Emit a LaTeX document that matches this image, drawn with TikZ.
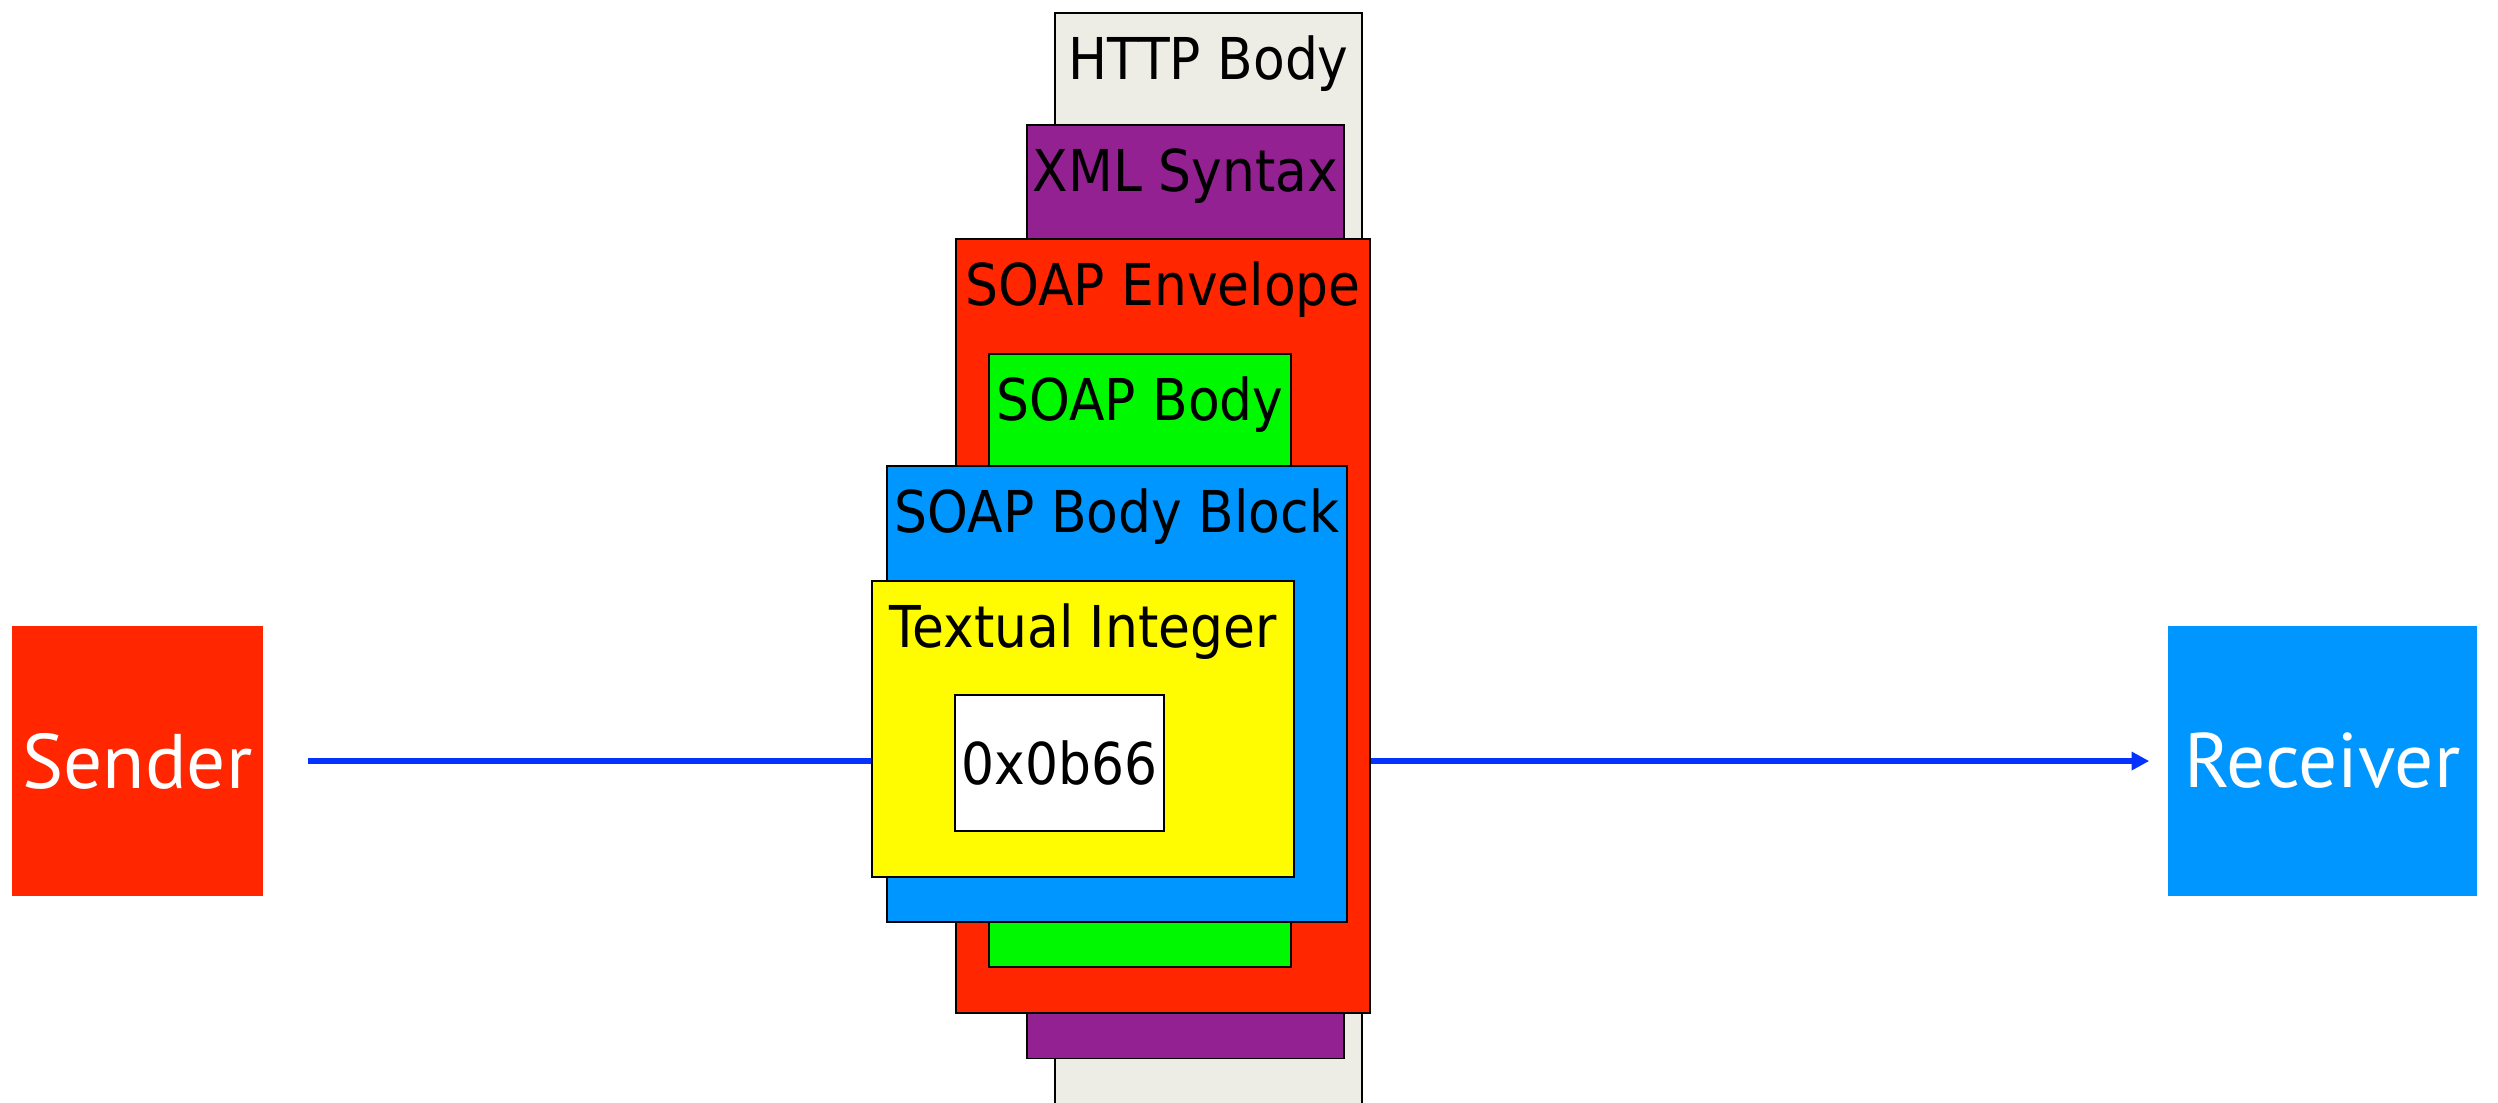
\documentclass[tikz,border=0pt]{standalone}
\usepackage{fontspec}
\usepackage{tikz}
\usetikzlibrary{arrows.meta}
\newfontfamily\layerfont{DejaVu Sans}[FakeStretch=0.9]
\newfontfamily\partyfont{PT Sans}
\definecolor{httpgray}{RGB}{237,237,229}
\definecolor{xmlpurple}{RGB}{148,33,146}
\definecolor{envred}{RGB}{255,38,0}
\definecolor{bodygreen}{RGB}{0,249,0}
\definecolor{blockblue}{RGB}{0,150,255}
\definecolor{intyellow}{RGB}{255,251,0}
\definecolor{linkblue}{RGB}{4,51,255}

\begin{document}
\begin{tikzpicture}[x=0.01cm, y=-0.01cm,
    layer/.style={draw=black, line width=0.5pt, inner sep=0pt, anchor=north west},
    layername/.style={anchor=base, yshift=-0.67cm, inner sep=0pt, font=\layerfont\fontsize{16.4}{20}\selectfont},
    party/.style={inner sep=0pt, minimum height=2.70cm, text=white, font=\partyfont\fontsize{22}{26}\selectfont},
    wire/.style={draw=linkblue, line width=1.5pt, -{Triangle[length=5pt,width=5pt]}}]
  \path[use as bounding box, clip] (0,0) rectangle (2498,1102);

  \node[party, fill=envred, minimum width=2.51cm] (sender) at (137.5,761) {Sender};
  \node[party, fill=blockblue, minimum width=3.09cm] (receiver) at (2322.5,761) {Receiver};
  \draw[wire, shorten <=0.44cm, shorten >=0.18cm] (sender) -- (receiver);

  % the nested layers, outermost first
  \node[layer, fill=httpgray, minimum width=3.07cm, minimum height=11.3cm,
        label={[layername]north:HTTP Body}] (http) at (1054,12) {};
  \node[layer, fill=xmlpurple, minimum width=3.17cm, minimum height=9.33cm,
        label={[layername]north:XML Syntax}] (xml) at (1026,124) {};
  \node[layer, fill=envred, minimum width=4.14cm, minimum height=7.74cm,
        label={[layername]north:SOAP Envelope}] (envelope) at (955,238) {};
  \node[layer, fill=bodygreen, minimum width=3.02cm, minimum height=6.13cm,
        label={[layername]north:SOAP Body}] (body) at (988,353) {};
  \node[layer, fill=blockblue, minimum width=4.60cm, minimum height=4.56cm,
        label={[layername]north:SOAP Body Block}] (block) at (886,465) {};
  \node[layer, fill=intyellow, minimum width=4.22cm, minimum height=2.96cm,
        label={[layername]north:Textual Integer}] (integer) at (871,580) {};
  \node[layer, fill=white, minimum width=2.09cm, minimum height=1.36cm, anchor=center,
        font=\layerfont\fontsize{16.4}{20}\selectfont] (value) at (1059.5,763) {0x0b66};
\end{tikzpicture}
\end{document}
